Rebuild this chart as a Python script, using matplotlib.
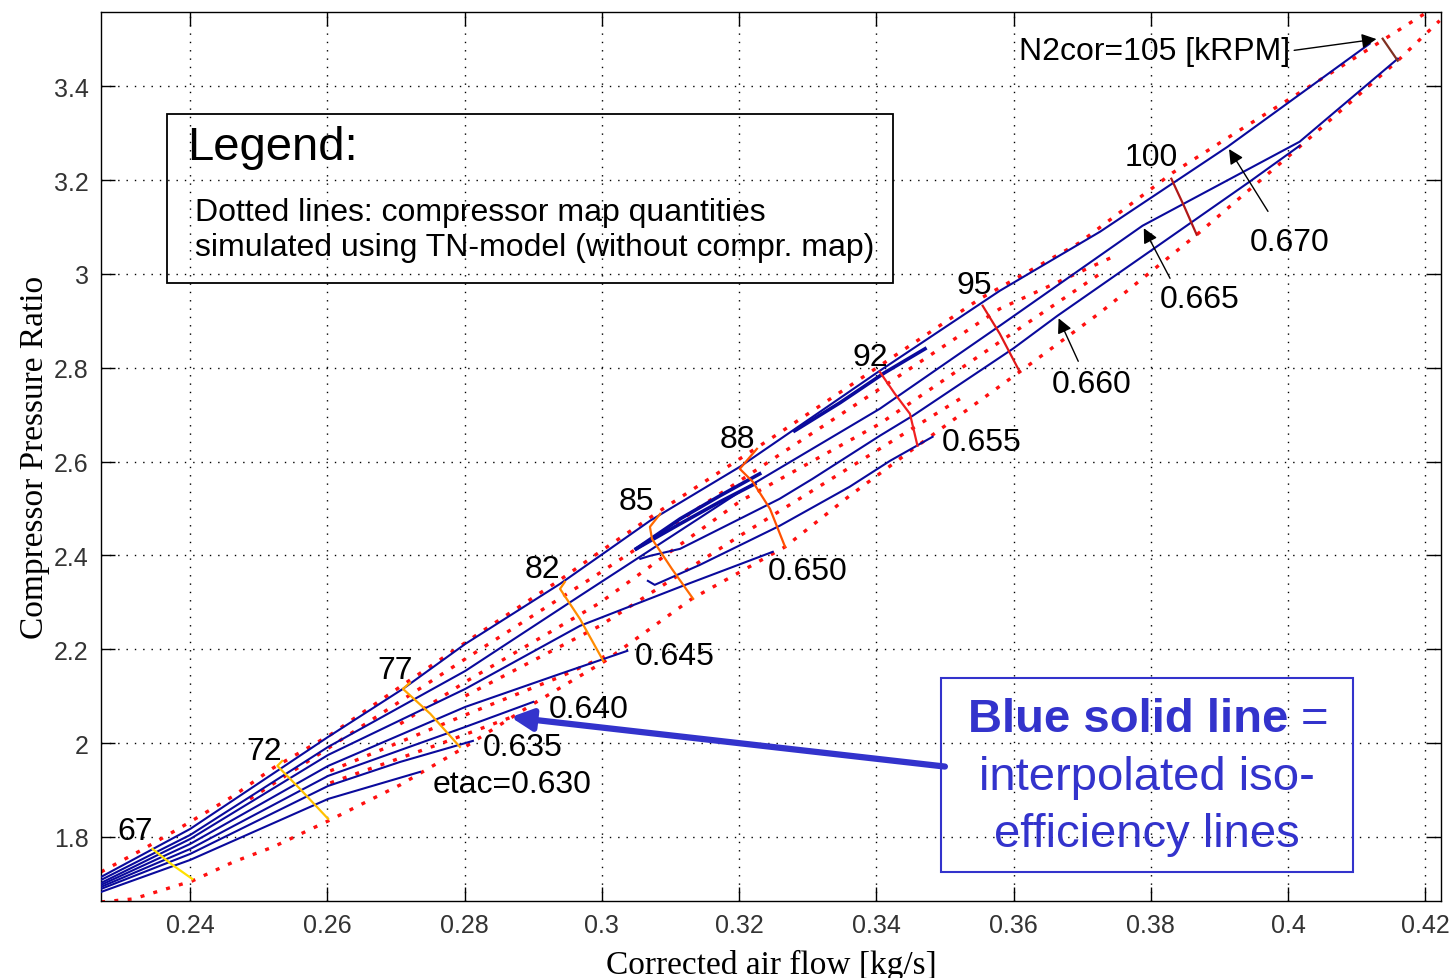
import matplotlib
matplotlib.use("Agg")
import matplotlib.pyplot as plt
from matplotlib.patches import Rectangle

plt.rcParams['font.family'] = ['Liberation Sans', 'DejaVu Sans']

# interpolated iso-efficiency lines etac (blue solid)
eff_630_x = [0.2270, 0.2400, 0.2601, 0.2735]
eff_630_y = [1.6827, 1.7510, 1.8810, 1.9386]
eff_635_x = [0.2270, 0.2400, 0.2601, 0.2706, 0.2812]
eff_635_y = [1.6891, 1.7638, 1.9087, 1.9599, 2.0047]
eff_640_x = [0.2270, 0.2400, 0.2601, 0.2801, 0.2900]
eff_640_y = [1.6934, 1.7744, 1.9301, 2.0345, 2.0878]
eff_645_x = [0.2270, 0.2400, 0.2601, 0.2801, 0.2939, 0.3037]
eff_645_y = [1.6977, 1.7851, 1.9514, 2.0772, 2.1475, 2.1966]
eff_650_x = [0.2270, 0.2400, 0.2601, 0.2801, 0.2968, 0.3114, 0.3249]
eff_650_y = [1.7019, 1.7957, 1.9748, 2.1156, 2.2499, 2.3330, 2.4077]
eff_655_x = [0.3067, 0.3077, 0.3143, 0.3259, 0.3361, 0.3420, 0.3482]
eff_655_y = [2.3458, 2.3373, 2.3800, 2.4631, 2.5463, 2.6017, 2.6529]
eff_660_x = [0.3056, 0.3070, 0.3114, 0.3201, 0.3259, 0.3307, 0.3405, 0.3453,
             0.3599, 0.3664, 0.3798, 0.3944, 0.4017]
eff_660_y = [2.3928, 2.3991, 2.4141, 2.4780, 2.5207, 2.5633, 2.6550, 2.6977,
             2.8405, 2.9109, 3.0474, 3.1966, 3.2733]
eff_665_x = [0.2270, 0.2400, 0.2601, 0.2801, 0.2968, 0.3201, 0.3405, 0.3580,
             0.3788, 0.4017, 0.4160]
eff_665_y = [1.7083, 1.8043, 1.9919, 2.1539, 2.3139, 2.5356, 2.7126, 2.8896,
             3.1028, 3.2819, 3.4588]
eff_670_x = [0.2270, 0.2400, 0.2601, 0.2710, 0.2801, 0.2939, 0.3070, 0.3201,
             0.3405, 0.3580, 0.3726, 0.3912, 0.4119]
eff_670_y = [1.7147, 1.8171, 2.0132, 2.1156, 2.2115, 2.3394, 2.4738, 2.5889,
             2.7936, 2.9642, 3.0900, 3.2712, 3.4908]

# small closed islands near the surge side
island_a_x = [0.3050, 0.3114, 0.3172, 0.3230]
island_a_y = [2.4141, 2.4780, 2.5271, 2.5740]
island_b_x = [0.3050, 0.3114, 0.3172, 0.3223]
island_b_y = [2.4141, 2.4674, 2.5143, 2.5527]
island_c_x = [0.3281, 0.3347, 0.3412, 0.3471]
island_c_y = [2.6657, 2.7254, 2.7894, 2.8405]

# map quantities simulated with the TN-model (red dotted)
sim_upper_x = [0.2270, 0.2332, 0.2390, 0.2463, 0.2521, 0.2604, 0.2710, 0.2822,
               0.2939, 0.2997, 0.3089, 0.3201, 0.3259, 0.3405, 0.3551, 0.3696,
               0.3832, 0.3940, 0.4061, 0.4206]
sim_upper_y = [1.7254, 1.7744, 1.8235, 1.8874, 1.9471, 2.0175, 2.1241, 2.2350,
               2.3480, 2.4077, 2.4994, 2.6060, 2.6614, 2.8043, 2.9471, 3.0665,
               3.2158, 3.3160, 3.4269, 3.5612]
sim_lower_x = [0.2270, 0.2317, 0.2403, 0.2463, 0.2521, 0.2601, 0.2706, 0.2796,
               0.2895, 0.3005, 0.3131, 0.3267, 0.3361, 0.3460, 0.3609, 0.3726,
               0.3867, 0.4017, 0.4160, 0.4221]
sim_lower_y = [1.6614, 1.6678, 1.7062, 1.7467, 1.7787, 1.8341, 1.9109, 1.9876,
               2.0793, 2.1753, 2.3075, 2.4183, 2.5271, 2.6337, 2.7915, 2.9173,
               3.0836, 3.2712, 3.4546, 3.5399]
sim_1_x = [0.2487, 0.2604, 0.2801, 0.2997, 0.3201, 0.3405, 0.3580, 0.3745]
sim_1_y = [1.8810, 1.9919, 2.1795, 2.3629, 2.5591, 2.7552, 2.9258, 3.0367]
sim_2_x = [0.2706, 0.2801, 0.2997, 0.3201, 0.3405, 0.3580, 0.3726]
sim_2_y = [2.0409, 2.1305, 2.2989, 2.5151, 2.6806, 2.8554, 3.0004]
sim_3_x = [0.2801, 0.2997, 0.3201, 0.3405, 0.3522]
sim_3_y = [2.1006, 2.2499, 2.4418, 2.6273, 2.7339]
sim_4_x = [0.2604, 0.2801, 0.2939, 0.3012]
sim_4_y = [1.9407, 2.0601, 2.1412, 2.1902]
sim_5_x = [0.2604, 0.2764, 0.2873]
sim_5_y = [1.9151, 1.9983, 2.0580]

# constant corrected speed lines N2cor [kRPM]
spd_67_x = [0.2345, 0.2374, 0.2403]
spd_67_y = [1.7744, 1.7403, 1.7104]
spd_72_x = [0.2534, 0.2527, 0.2560, 0.2601]
spd_72_y = [1.9620, 1.9514, 1.9023, 1.8384]
spd_77_x = [0.2720, 0.2710, 0.2750, 0.2793]
spd_77_y = [2.1284, 2.1156, 2.0623, 1.9919]
spd_82_x = [0.2946, 0.2939, 0.2968, 0.3002]
spd_82_y = [2.3437, 2.3288, 2.2648, 2.1753]
spd_85_x = [0.3085, 0.3070, 0.3073, 0.3102, 0.3133]
spd_85_y = [2.4887, 2.4610, 2.4354, 2.3714, 2.3075]
spd_88_x = [0.3226, 0.3201, 0.3220, 0.3245, 0.3267]
spd_88_y = [2.6273, 2.5846, 2.5569, 2.4994, 2.4183]
spd_92_x = [0.3405, 0.3427, 0.3449, 0.3460]
spd_92_y = [2.7915, 2.7446, 2.7019, 2.6337]
spd_95_x = [0.3555, 0.3580, 0.3609]
spd_95_y = [2.9322, 2.8725, 2.7915]
spd_100_x = [0.3830, 0.3849, 0.3867]
spd_100_y = [3.2030, 3.1433, 3.0836]
spd_105_x = [0.4138, 0.4160]
spd_105_y = [3.5015, 3.4546]

x_ticks = [0.24, 0.26, 0.28, 0.30, 0.32, 0.34, 0.36, 0.38, 0.40, 0.42]
x_ticklabels = ['0.24', '0.26', '0.28', '0.3', '0.32', '0.34', '0.36', '0.38', '0.4', '0.42']
y_ticks = [1.8, 2.0, 2.2, 2.4, 2.6, 2.8, 3.0, 3.2, 3.4]
y_ticklabels = ['1.8', '2', '2.2', '2.4', '2.6', '2.8', '3', '3.2', '3.4']

blue = '#0a0a9c'
red = '#ff1010'
fs = 23

fig = plt.figure(figsize=(14.52, 9.79), dpi=100)
ax = fig.add_axes([0.0696, 0.0787, 0.9228, 0.9083])

dotted = (0, (1.2, 2.8))
for xs, ys in [(sim_upper_x, sim_upper_y), (sim_lower_x, sim_lower_y),
               (sim_1_x, sim_1_y), (sim_2_x, sim_2_y), (sim_3_x, sim_3_y),
               (sim_4_x, sim_4_y), (sim_5_x, sim_5_y)]:
    ax.plot(xs, ys, color=red, lw=2.4, linestyle=dotted, zorder=2)

for xs, ys in [(eff_630_x, eff_630_y), (eff_635_x, eff_635_y), (eff_640_x, eff_640_y),
               (eff_645_x, eff_645_y), (eff_650_x, eff_650_y), (eff_655_x, eff_655_y),
               (eff_660_x, eff_660_y), (eff_665_x, eff_665_y), (eff_670_x, eff_670_y)]:
    ax.plot(xs, ys, color=blue, lw=1.5, zorder=3)

for xs, ys in [(island_a_x, island_a_y), (island_b_x, island_b_y), (island_c_x, island_c_y)]:
    ax.plot(xs, ys, color=blue, lw=2.6, zorder=3)

speed_lines = [(spd_67_x, spd_67_y, '#ffe000'), (spd_72_x, spd_72_y, '#ffc000'),
               (spd_77_x, spd_77_y, '#ffa500'), (spd_82_x, spd_82_y, '#ff8c00'),
               (spd_85_x, spd_85_y, '#ff6a00'), (spd_88_x, spd_88_y, '#ff5000'),
               (spd_92_x, spd_92_y, '#f02020'), (spd_95_x, spd_95_y, '#e01818'),
               (spd_100_x, spd_100_y, '#b01818'), (spd_105_x, spd_105_y, '#803020')]
for xs, ys, c in speed_lines:
    ax.plot(xs, ys, color=c, lw=1.6, zorder=4)

# speed labels
for txt, x, y in [('67', 0.2320, 1.8128), ('72', 0.2508, 1.9834), ('77', 0.2699, 2.1561),
                  ('82', 0.2914, 2.3714), ('85', 0.3050, 2.5164), ('88', 0.3197, 2.6486),
                  ('92', 0.3391, 2.8235), ('95', 0.3543, 2.9770), ('100', 0.3801, 3.2499),
                  ('N2cor=105 [kRPM]', 0.3806, 3.4759)]:
    ax.text(x, y, txt, fontsize=fs, ha='center', va='center', zorder=6)

# efficiency labels
for txt, x, y in [('etac=0.630', 0.2869, 1.9130), ('0.635', 0.2884, 1.9919),
                  ('0.640', 0.2981, 2.0729), ('0.645', 0.3106, 2.1859),
                  ('0.650', 0.3300, 2.3672), ('0.655', 0.3554, 2.6422),
                  ('0.660', 0.3714, 2.7659), ('0.665', 0.3871, 2.9471),
                  ('0.670', 0.4002, 3.0687)]:
    ax.text(x, y, txt, fontsize=fs, ha='center', va='center', zorder=6)

arrow_k = dict(arrowstyle='-|>', color='k', lw=1.0, mutation_scale=22)
ax.annotate('', xy=(0.4133, 3.5015), xytext=(0.4005, 3.4759), arrowprops=arrow_k)
ax.annotate('', xy=(0.3912, 3.2712), xytext=(0.3973, 3.1284), arrowprops=arrow_k)
ax.annotate('', xy=(0.3788, 3.1028), xytext=(0.3830, 2.9855), arrowprops=arrow_k)
ax.annotate('', xy=(0.3664, 2.9109), xytext=(0.3696, 2.8085), arrowprops=arrow_k)
ax.annotate('', xy=(0.2863, 2.0559), xytext=(0.3504, 1.9493),
            arrowprops=dict(arrowstyle='-|>', color='#3333cc', lw=4.5, mutation_scale=32),
            zorder=7)

ax.set_xlim(0.2270, 0.4223)
ax.set_ylim(1.6635, 3.559)
ax.set_xticks(x_ticks)
ax.set_xticklabels(x_ticklabels)
ax.set_yticks(y_ticks)
ax.set_yticklabels(y_ticklabels)
ax.tick_params(direction='in', length=10, width=1, top=True, right=True,
               labelsize=18, labelcolor='#333333', pad=9)
ax.grid(True, linestyle=(0, (1, 5)), color='k', lw=1.0)
ax.set_axisbelow(True)
for s in ax.spines.values():
    s.set_linewidth(1.0)

ax.set_xlabel('Corrected air flow [kg/s]', fontsize=24, family='Liberation Serif', labelpad=8)
ax.set_ylabel('Compressor Pressure Ratio', fontsize=24, family='Liberation Serif', labelpad=3)

# legend box
fig.add_artist(Rectangle((0.1150, 0.7099), 0.5000, 0.1726, transform=fig.transFigure,
                         fc='none', ec='k', lw=1.3))
fig.text(0.1288, 0.8488, 'Legend:', fontsize=34, va='center')
fig.text(0.1343, 0.7824, 'Dotted lines: compressor map quantities', fontsize=fs, va='center')
fig.text(0.1343, 0.7467, 'simulated using TN-model (without compr. map)', fontsize=fs, va='center')

# note on the blue lines
bc = '#3333cc'
fig.add_artist(Rectangle((0.6481, 0.1083), 0.2837, 0.1981, transform=fig.transFigure,
                         fc='none', ec=bc, lw=1.5))
fig.text(0.8870, 0.2646, 'Blue solid line', fontsize=34, color=bc, weight='bold',
         ha='right', va='center')
fig.text(0.8960, 0.2646, '=', fontsize=34, color=bc, ha='left', va='center')
fig.text(0.7900, 0.2053, 'interpolated iso-', fontsize=34, color=bc, ha='center', va='center')
fig.text(0.7900, 0.1471, 'efficiency lines', fontsize=34, color=bc, ha='center', va='center')

fig.savefig('out.png', dpi=100)
